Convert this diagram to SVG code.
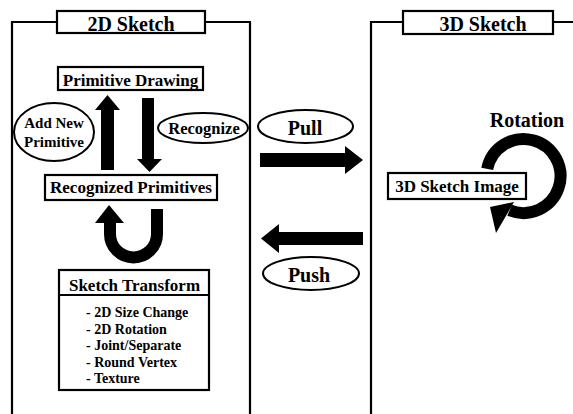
<svg xmlns="http://www.w3.org/2000/svg" width="573" height="414" viewBox="0 0 573 414">
<style>
.ln{fill:none;stroke:#000;stroke-width:2.2}
.bx{fill:#fff;stroke:#000;stroke-width:2.2}
.el{fill:#fff;stroke:#000;stroke-width:2}
.t{font-family:"Liberation Serif","Times New Roman",serif;font-weight:bold;fill:#000}
.ar{fill:#000;stroke:none}
.band{fill:none;stroke:#000;stroke-width:12}
</style>
<rect x="0" y="0" width="573" height="414" fill="#fff"/>
<g id="panel-2d">
<path class="ln" d="M12 416 V22 H57 M205 22 H250 V416"/>
<rect class="bx" x="57" y="11" width="148" height="22"/>
<text class="t" x="131" y="31" font-size="20" text-anchor="middle">2D Sketch</text>
</g>
<g id="panel-3d">
<path class="ln" d="M371 416 V22 H403 M553 22 H575"/>
<rect class="bx" x="403" y="11" width="150" height="23"/>
<text class="t" x="483" y="31" font-size="20" text-anchor="middle">3D Sketch</text>
</g>
<g id="connectors">
<rect class="ar" x="101" y="109" width="13" height="61"/>
<polygon class="ar" points="95,110 120,110 107.5,95"/>
<rect class="ar" x="142" y="98" width="12" height="62"/>
<polygon class="ar" points="137,159 162,159 149.5,172"/>
<path class="band" d="M157 209 V234 A23.5 23.5 0 0 1 110 234 V222"/>
<polygon class="ar" points="95,223 124,223 109,205"/>
<rect class="ar" x="260" y="153" width="86" height="14"/>
<polygon class="ar" points="345,146 345,174 363,160"/>
<rect class="ar" x="278" y="232" width="85" height="13"/>
<polygon class="ar" points="279,224 279,253 261,238.5"/>
<path class="band" d="M487.2 168.9 A37 37 0 1 1 509.6 210.3"/>
<polygon class="ar" points="490,207 496,233 514,202"/>
</g>
<g id="primitive-drawing">
<rect class="bx" x="58" y="67" width="145" height="23"/>
<text class="t" x="130.5" y="86" font-size="17" text-anchor="middle">Primitive Drawing</text>
</g>
<g id="add-new-primitive">
<ellipse class="el" cx="54" cy="132" rx="40" ry="29"/>
<text class="t" x="54" y="128" font-size="15" text-anchor="middle">Add New</text>
<text class="t" x="54" y="147" font-size="15" text-anchor="middle">Primitive</text>
</g>
<g id="recognize">
<ellipse class="el" cx="203" cy="128" rx="45" ry="15"/>
<text class="t" x="204" y="134" font-size="16.5" text-anchor="middle">Recognize</text>
</g>
<g id="recognized-primitives">
<rect class="bx" x="45" y="175" width="172" height="25"/>
<text class="t" x="131" y="193" font-size="17" text-anchor="middle">Recognized Primitives</text>
</g>
<g id="sketch-transform">
<rect class="bx" x="59" y="270" width="150" height="120"/>
<line class="ln" x1="59" y1="295" x2="209" y2="295"/>
<text class="t" x="134.5" y="291" font-size="17" text-anchor="middle">Sketch Transform</text>
<text class="t" x="86" y="317" font-size="14">- 2D Size Change</text>
<text class="t" x="86" y="334" font-size="14">- 2D Rotation</text>
<text class="t" x="86" y="350" font-size="14">- Joint/Separate</text>
<text class="t" x="86" y="367" font-size="14">- Round Vertex</text>
<text class="t" x="86" y="383" font-size="14">- Texture</text>
</g>
<g id="pull">
<ellipse class="el" cx="305.5" cy="126.5" rx="47.5" ry="16.5"/>
<text class="t" x="305" y="135" font-size="20" text-anchor="middle">Pull</text>
</g>
<g id="push">
<ellipse class="el" cx="311" cy="273.5" rx="48" ry="16.5"/>
<text class="t" x="309" y="282" font-size="20" text-anchor="middle">Push</text>
</g>
<g id="rotation-label">
<text class="t" x="527" y="127" font-size="20" text-anchor="middle">Rotation</text>
</g>
<g id="sketch-image-3d">
<rect class="bx" x="388" y="173" width="138" height="26"/>
<text class="t" x="457" y="192" font-size="17" text-anchor="middle">3D Sketch Image</text>
</g>
</svg>
